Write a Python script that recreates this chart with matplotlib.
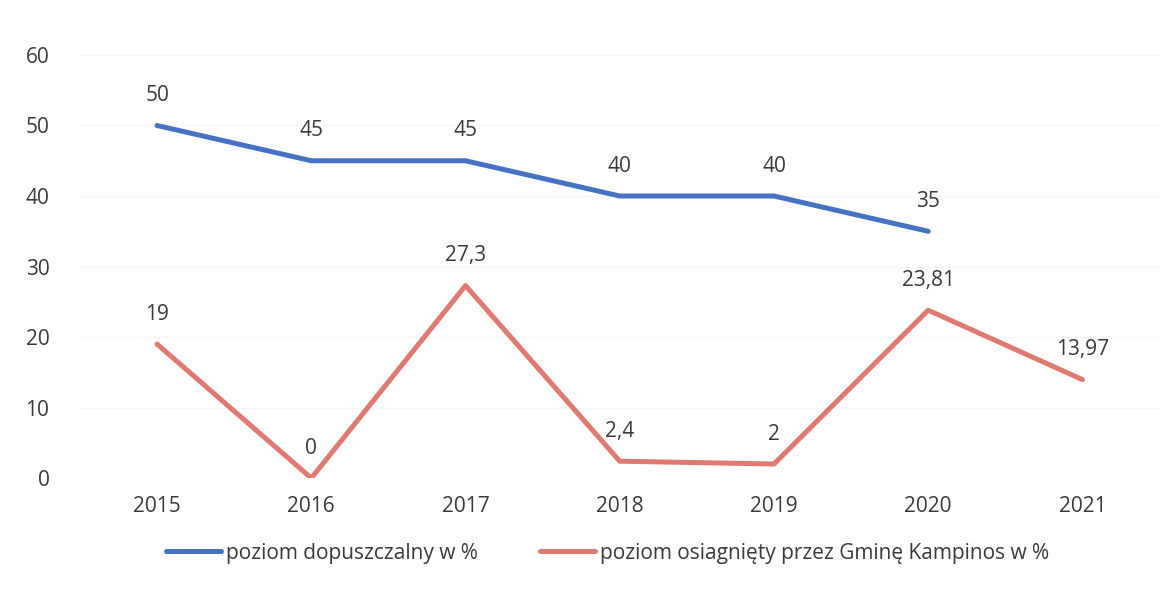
import matplotlib
matplotlib.use("Agg")
import matplotlib.pyplot as plt

years = ["2015", "2016", "2017", "2018", "2019", "2020", "2021"]
allowed = [50, 45, 45, 40, 40, 35]
achieved = [19, 0, 27.3, 2.4, 2, 23.81, 13.97]
allowed_label = "poziom dopuszczalny w %"
achieved_label = "poziom osiagnięty przez Gminę Kampinos w %"

plt.rcParams['font.family'] = ['Open Sans', 'DejaVu Sans']

BLUE = "#4472C4"
RED = "#E07A70"
TXT = "#3a3a3a"
FS = 15

fig = plt.figure(figsize=(11.76, 5.91), dpi=100)
ax = fig.add_axes([0.068, 0.191, 0.918, 0.716])

x_allowed = list(range(len(allowed)))
x_achieved = list(range(len(achieved)))
l1, = ax.plot(x_allowed, allowed, color=BLUE, lw=3.6, solid_capstyle='round', label=allowed_label)
l2, = ax.plot(x_achieved, achieved, color=RED, lw=3.6, solid_capstyle='round', label=achieved_label)

def fmt(v):
    return ("%g" % v).replace(".", ",")

for xi, v in zip(x_allowed, allowed):
    ax.annotate(fmt(v), (xi, v), xytext=(0, 14), textcoords='offset points',
                ha='center', va='bottom', fontsize=FS, color=TXT)
for xi, v in zip(x_achieved, achieved):
    ax.annotate(fmt(v), (xi, v), xytext=(0, 14), textcoords='offset points',
                ha='center', va='bottom', fontsize=FS, color=TXT)

ax.set_xlim(-0.5, len(years) - 0.5)
ax.set_ylim(0, 60)
ax.set_yticks(range(0, 61, 10))
ax.set_xticks(range(len(years)))
ax.set_xticklabels(years)
ax.tick_params(axis='both', length=0, labelsize=FS, labelcolor=TXT)
ax.tick_params(axis='y', pad=22)
ax.tick_params(axis='x', pad=13)
ax.grid(axis='y', color='#f5f5f5', lw=1)
ax.set_axisbelow(True)
for s in ax.spines.values():
    s.set_visible(False)

fig.legend(handles=[l1, l2], loc='center', bbox_to_anchor=(0.5166, 0.064), ncol=2,
           frameon=False, fontsize=FS, handlelength=2.65, handletextpad=0.24,
           columnspacing=3.0, labelcolor=TXT)

fig.savefig("out.png", dpi=100, facecolor='white')
